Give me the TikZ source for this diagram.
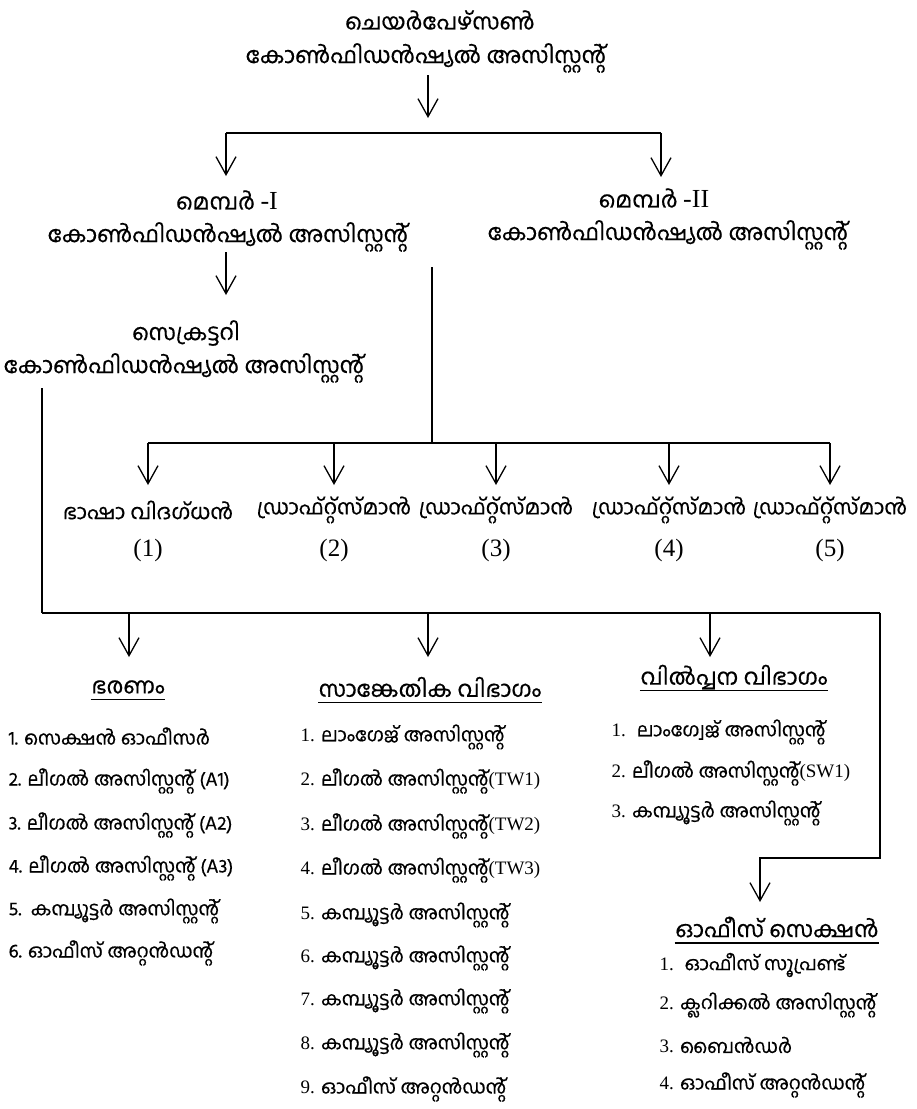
\documentclass[tikz,border=0pt]{standalone}
\usepackage{fontspec}
\usetikzlibrary{arrows.meta}
\newfontfamily\mlfont[Script=Malayalam,FakeBold=0.5]{Hind Kochi}
\newfontfamily\tmfont{Liberation Serif}
\newcommand{\mlbig}{\fontsize{22.5}{27}\selectfont}
\newcommand{\mlmid}{\fontsize{21}{25}\selectfont}
\newcommand{\mlitem}{\fontsize{19}{23}\selectfont}
\newcommand{\rn}[1]{{\tmfont #1}}
\tikzset{>={Straight Barb[length=18pt,width=20pt]}}

\begin{document}
\begin{tikzpicture}[x=1pt,y=-1pt,line width=1.3pt,
    txt/.style={font=\mlfont\mlbig, inner sep=0pt},
    dtxt/.style={font=\mlfont\mlmid, inner sep=0pt},
    item/.style={font=\mlfont\mlitem, inner sep=0pt, anchor=west},
    numlbl/.style={font=\tmfont\fontsize{25}{30}\selectfont, inner sep=0pt},
    bar/.style={line width=2.4pt}]
    \useasboundingbox (0,0) rectangle (917,1109);
    % chairperson
    \node[txt] (chair) at (440,20) {ചെയർപേഴ്സൺ};
    \node[txt] (chairca) at (426,58) {കോൺഫിഡൻഷ്യൽ അസിസ്റ്റന്റ്};
    \coordinate (ca) at (428,75);
    \coordinate (cb) at (428,118);
    \draw[->] (ca) -- (cb);
    \coordinate (barL) at (226,133);
    \coordinate (barR) at (661,133);
    \draw[bar] (barL) -- (barR);
    % members
    \node[txt] (mone) at (227,200) {മെമ്പർ \rn{\fontsize{26}{30}\selectfont -I}};
    \node[txt] (moneca) at (228,237) {കോൺഫിഡൻഷ്യൽ അസിസ്റ്റന്റ്};
    \node[txt] (mtwo) at (654,198) {മെമ്പർ \rn{\fontsize{26}{30}\selectfont -II}};
    \node[txt] (mtwoca) at (668,235) {കോൺഫിഡൻഷ്യൽ അസിസ്റ്റന്റ്};
    \coordinate (ma) at (226,176);
    \coordinate (mb) at (661,177);
    \draw[->] (barL) -- (ma);
    \draw[->] (barR) -- (mb);
    % secretary
    \coordinate (sa) at (226,252);
    \coordinate (sb) at (226,295);
    \draw[->] (sa) -- (sb);
    \node[txt] (secy) at (186,333) {സെക്രട്ടറി};
    \node[txt] (secyca) at (184,368) {കോൺഫിഡൻഷ്യൽ അസിസ്റ്റന്റ്};
    % draftsmen
    \coordinate (dtop) at (432,267);
    \coordinate (dmid) at (432,443);
    \draw (dtop) -- (dmid);
    \draw[line width=1.8pt] (148,443) coordinate (dL) -- (830,443) coordinate (dR);
    \foreach \x/\n/\t in {148/1/{ഭാഷാ വിദഗ്‌ധൻ},334/2/ഡ്രാഫ്റ്റ്സ്മാൻ,
        496/3/ഡ്രാഫ്റ്റ്സ്മാൻ,669/4/ഡ്രാഫ്റ്റ്സ്മാൻ,830/5/ഡ്രാഫ്റ്റ്സ്മാൻ}{
        \coordinate (da\n) at (\x,443);
        \coordinate (db\n) at (\x,485);
        \draw[->] (da\n) -- (db\n);
        \node[dtxt] (dm\n) at (\x,510) {\t};
        \node[numlbl] (dn\n) at (\x,550) {(\n)};
    }
    % sections
    \coordinate (lt) at (42,388);
    \coordinate (lb) at (42,613);
    \coordinate (rb) at (880,613);
    \coordinate (rt) at (880,858);
    \coordinate (ot) at (760,858);
    \coordinate (oh) at (760,902);
    \draw[line width=1.8pt] (lb) -- (rb);
    \draw (lt) -- (lb);
    \draw[->] (rb) -- (rt) -- (ot) -- (oh);
    \foreach \x/\n in {129/bh,428/sk,710/vp}{
        \coordinate (a\n) at (\x,613);
        \coordinate (b\n) at (\x,657);
        \draw[->] (a\n) -- (b\n);
    }
    \node[txt] (bh) at (128,687) {ഭരണം};
    \node[txt] (sk) at (430,687) {സാങ്കേതിക വിഭാഗം};
    \node[txt] (vp) at (734,677) {വിൽപ്പന വിഭാഗം};
    \node[txt] (os) at (777,927) {ഓഫീസ് സെക്ഷൻ};
    \foreach \h in {bh,sk,vp,os}
        \draw ([yshift=-6pt]\h.base west) -- ([yshift=-6pt]\h.base east);
    % lists
    \foreach \y/\n/\t in {736/1/{1. സെക്ഷൻ ഓഫീസർ},781/2/{2. ലീഗൽ അസിസ്റ്റന്റ് (A1)},
        825/3/{3. ലീഗൽ അസിസ്റ്റന്റ് (A2)},868/4/{4. ലീഗൽ അസിസ്റ്റന്റ് (A3)},
        911/5/{5.\ \ കമ്പ്യൂട്ടർ അസിസ്റ്റന്റ്},953/6/{6. ഓഫീസ് അറ്റൻഡന്റ്}}
        \node[item] (bh\n) at (8,\y) {\t};
    \foreach \y/\n/\t in {737/1/{ലാംഗേജ് അസിസ്റ്റന്റ്},781/2/{ലീഗൽ അസിസ്റ്റന്റ്\rn{(TW1)}},
        826/3/{ലീഗൽ അസിസ്റ്റന്റ്\rn{(TW2)}},870/4/{ലീഗൽ അസിസ്റ്റന്റ്\rn{(TW3)}},
        915/5/{കമ്പ്യൂട്ടർ അസിസ്റ്റന്റ്},958/6/{കമ്പ്യൂട്ടർ അസിസ്റ്റന്റ്},
        1001/7/{കമ്പ്യൂട്ടർ അസിസ്റ്റന്റ്},1045/8/{കമ്പ്യൂട്ടർ അസിസ്റ്റന്റ്},
        1089/9/{ഓഫീസ് അറ്റൻഡന്റ്}}
        \node[item] (sk\n) at (300,\y) {\rn{\n.} \t};
    \foreach \y/\n/\t in {732/1/{\ ലാംഗ്വേജ് അസിസ്റ്റന്റ്},773/2/{ലീഗൽ അസിസ്റ്റന്റ്\rn{(SW1)}},
        813/3/{കമ്പ്യൂട്ടർ അസിസ്റ്റന്റ്}}
        \node[item] (vp\n) at (611,\y) {\rn{\n.} \t};
    \foreach \y/\n/\t in {965/1/{\ ഓഫീസ് സൂപ്രണ്ട്},1005/2/{ക്ലറിക്കൽ അസിസ്റ്റന്റ്},
        1045/3/{ബൈൻഡർ},1085/4/{ഓഫീസ് അറ്റൻഡന്റ്}}
        \node[item] (os\n) at (659,\y) {\rn{\n.} \t};
\end{tikzpicture}
\end{document}
